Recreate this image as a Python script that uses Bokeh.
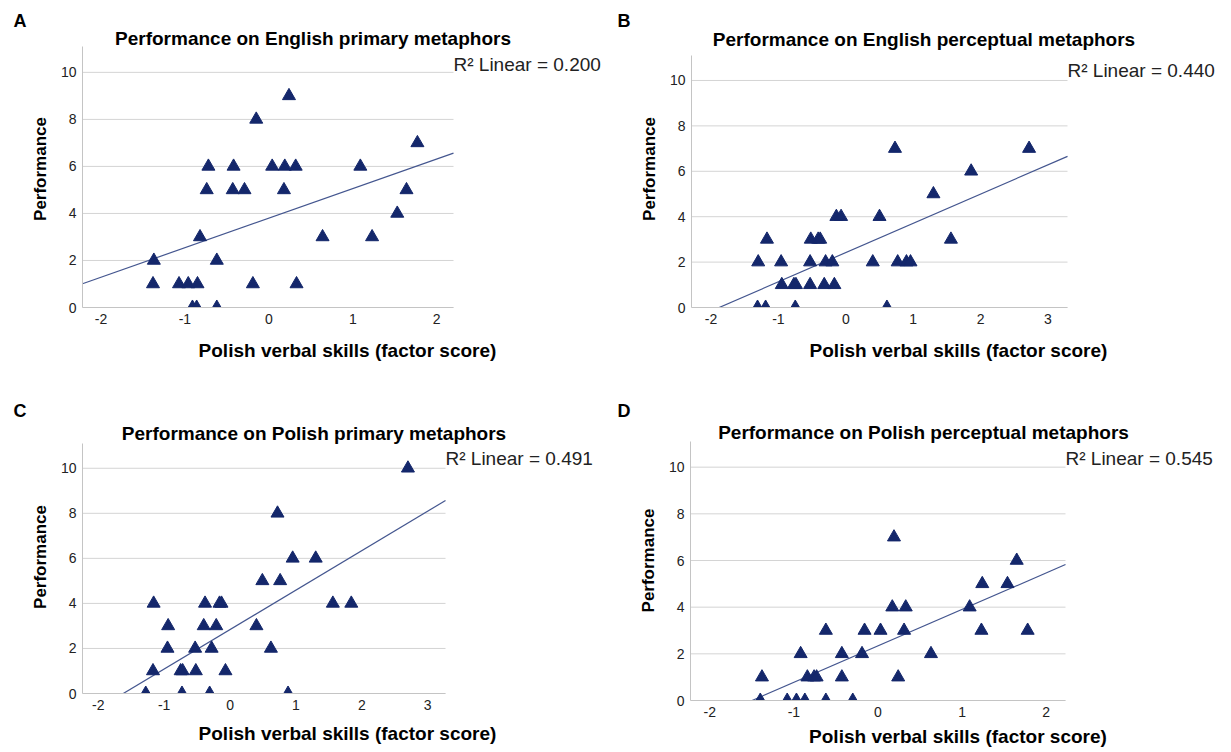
from bokeh.plotting import figure
from bokeh.models import Range1d, FixedTicker, Label, ColumnDataSource, Title
from bokeh.layouts import column, row
from bokeh.embed import file_html
from bokeh.resources import INLINE

# ---------------- data ----------------
panel_letters = ["A", "B", "C", "D"]
titles = [
    "Performance on English primary metaphors",
    "Performance on English perceptual metaphors",
    "Performance on Polish primary metaphors",
    "Performance on Polish perceptual metaphors",
]
r2_values = ["0.200", "0.440", "0.491", "0.545"]
x_label = "Polish verbal skills (factor score)"
y_label = "Performance"

A_x = [-1.37, -1.38, -1.07, -0.96, -0.85, -0.91, -0.86, -0.82, -0.72, -0.74,
       -0.62, -0.62, -0.42, -0.43, -0.29, -0.15, -0.19, 0.04, 0.19, 0.32,
       0.18, 0.24, 0.33, 0.64, 1.09, 1.23, 1.53, 1.64, 1.77]
A_y = [2, 1, 1, 1, 1, 0, 0, 3, 6, 5,
       2, 0, 6, 5, 5, 8, 1, 6, 6, 6,
       5, 9, 1, 3, 6, 3, 4, 5, 7]

B_x = [-1.30, -1.17, -1.31, -1.19, -0.96, -0.95, -0.77, -0.74, -0.75, -0.52,
       -0.41, -0.38, -0.53, -0.53, -0.32, -0.30, -0.20, -0.17, -0.14, -0.07,
       0.50, 0.40, 0.61, 0.73, 0.77, 0.90, 0.96, 1.30, 1.56, 1.86, 2.72]
B_y = [2, 3, 0, 0, 2, 1, 1, 1, 0, 3,
       3, 3, 2, 1, 1, 2, 2, 1, 4, 4,
       4, 2, 0, 7, 2, 2, 2, 5, 3, 6, 7]

C_x = [-1.16, -1.17, -1.28, -0.94, -0.95, -0.75, -0.72, -0.73, -0.53, -0.52,
       -0.38, -0.40, -0.21, -0.28, -0.16, -0.13, -0.31, -0.07, 0.40, 0.49,
       0.62, 0.76, 0.72, 0.88, 0.95, 1.30, 1.56, 1.84, 2.70]
C_y = [4, 1, 0, 3, 2, 1, 1, 0, 2, 1,
       4, 3, 3, 2, 4, 4, 0, 1, 3, 5,
       2, 5, 8, 0, 6, 6, 4, 4, 10]

D_x = [-1.38, -1.40, -1.08, -0.97, -0.87, -0.92, -0.84, -0.76, -0.73, -0.62, -0.62,
       -0.43, -0.43, -0.30, -0.19, -0.16, 0.03, 0.17, 0.33, 0.19,
       0.31, 0.24, 0.63, 1.09, 1.24, 1.23, 1.54, 1.65, 1.78]
D_y = [1, 0, 0, 0, 0, 2, 1, 1, 1, 3, 0,
       2, 1, 0, 2, 3, 3, 4, 4, 7,
       3, 1, 2, 4, 5, 3, 5, 6, 3]

# fitted lines (slope, intercept)
fit_slope = [1.257, 1.288, 1.752, 1.563]
fit_intercept = [3.80, 2.42, 2.84, 2.34]

x_ranges = [(-2.22, 2.2), (-2.29, 3.29), (-2.24, 3.27), (-2.23, 2.23)]
y_top = 11.1
x_ticks = [[-2, -1, 0, 1, 2], [-2, -1, 0, 1, 2, 3], [-2, -1, 0, 1, 2, 3], [-2, -1, 0, 1, 2]]
y_ticks = [0, 2, 4, 6, 8, 10]

xs_all = [A_x, B_x, C_x, D_x]
ys_all = [A_y, B_y, C_y, D_y]

# ---------------- layout (pixels) ----------------
# fig width, fig height, left border, top border, bottom border,
# axes width (px), axes height (px), x-label standoff
geo = [
    (612, 390, 82, 30, 83, 371, 261, 13),
    (613, 390, 79, 30, 83, 376, 252, 13),
    (612, 362, 82, 30, 59, 363, 250, 10),
    (613, 362, 78, 30, 52, 375, 259, 6),
]
# title centre (frame-relative x, y from frame bottom), r2 y, letter offset
title_pos = [(230.5, 269), (232.5, 268), (231.5, 260), (233, 268)]
r2_y = [243, 237, 235, 242]
letter_off = [-69, -74, -69, -73]

FONT = "Liberation Sans"
MARK = "#14276b"
LINE = "#44568f"


def make_panel(i):
    W, H, bl, bt, bb, aw, ah, xls = geo[i]
    fw = W - bl
    fh = H - bt - bb
    x0, x1 = x_ranges[i]
    x_end = x0 + (x1 - x0) * fw / aw
    y_end = y_top * fh / ah
    p = figure(width=W, height=H,
               min_border_left=bl, min_border_right=0,
               min_border_top=bt, min_border_bottom=bb,
               x_range=Range1d(x0, x_end), y_range=Range1d(0, y_end),
               toolbar_location=None, output_backend="svg", title=None)
    p.outline_line_color = None
    p.background_fill_color = "white"
    p.border_fill_color = "white"
    p.xgrid.grid_line_color = None
    p.ygrid.grid_line_color = None

    # horizontal grid lines limited to the axes area
    p.segment(x0=[x0] * len(y_ticks), x1=[x1] * len(y_ticks), y0=y_ticks, y1=y_ticks,
              line_color="#d4d4d4", line_width=1, level="underlay")

    p.xaxis.ticker = FixedTicker(ticks=x_ticks[i])
    p.yaxis.ticker = FixedTicker(ticks=y_ticks)
    p.xaxis.major_label_overrides = {t: str(t) for t in x_ticks[i]}
    p.xaxis.bounds = (x0, x1)
    p.yaxis.bounds = (0, y_top)
    for ax in (p.xaxis[0], p.yaxis[0]):
        ax.axis_line_color = "#c4c4c4"
        ax.axis_line_width = 1
        ax.major_tick_line_color = None
        ax.minor_tick_line_color = None
        ax.major_tick_out = 0
        ax.major_tick_in = 0
        ax.major_label_text_font = FONT
        ax.major_label_text_font_size = "14px"
        ax.major_label_text_color = "#222222"
        ax.major_label_standoff = 6
        ax.axis_label_text_font = FONT
        ax.axis_label_text_font_style = "bold"
        ax.axis_label_text_color = "black"
    p.xaxis.axis_label = x_label
    p.yaxis.axis_label = y_label
    p.xaxis.axis_label_text_font_size = "19px"
    p.yaxis.axis_label_text_font_size = "17px"
    p.xaxis.axis_label_standoff = xls
    p.yaxis.axis_label_standoff = 8

    # regression line
    lx = [x0, x1]
    ly = [fit_intercept[i] + fit_slope[i] * v for v in lx]
    p.line(lx, ly, line_color=LINE, line_width=1.2)

    src = ColumnDataSource(dict(x=xs_all[i], y=ys_all[i]))
    p.scatter("x", "y", source=src, marker="triangle", size=13,
              fill_color=MARK, line_color=MARK)

    tx, ty = title_pos[i]
    p.add_layout(Label(x=tx, y=ty, x_units="screen", y_units="screen",
                       text=titles[i], text_align="center", text_baseline="middle",
                       text_font=FONT, text_font_size="19px", text_font_style="bold",
                       text_color="black"))
    p.add_layout(Label(x=aw, y=r2_y[i], x_units="screen", y_units="screen",
                       text="R\u00b2 Linear = " + r2_values[i], text_align="left",
                       text_baseline="middle",
                       text_font=FONT, text_font_size="19px", text_color="#222222"))
    p.add_layout(Title(text=panel_letters[i], align="left", offset=letter_off[i],
                       vertical_align="bottom", standoff=0,
                       text_font=FONT, text_font_size="18px", text_font_style="bold",
                       text_color="black"), "above")
    return p


panels = [make_panel(i) for i in range(4)]
layout = column(row(column(panels[0]), column(panels[1]), spacing=0),
                row(column(panels[2]), column(panels[3]), spacing=0), spacing=0)

open("out.html", "w").write(file_html(layout, INLINE))
